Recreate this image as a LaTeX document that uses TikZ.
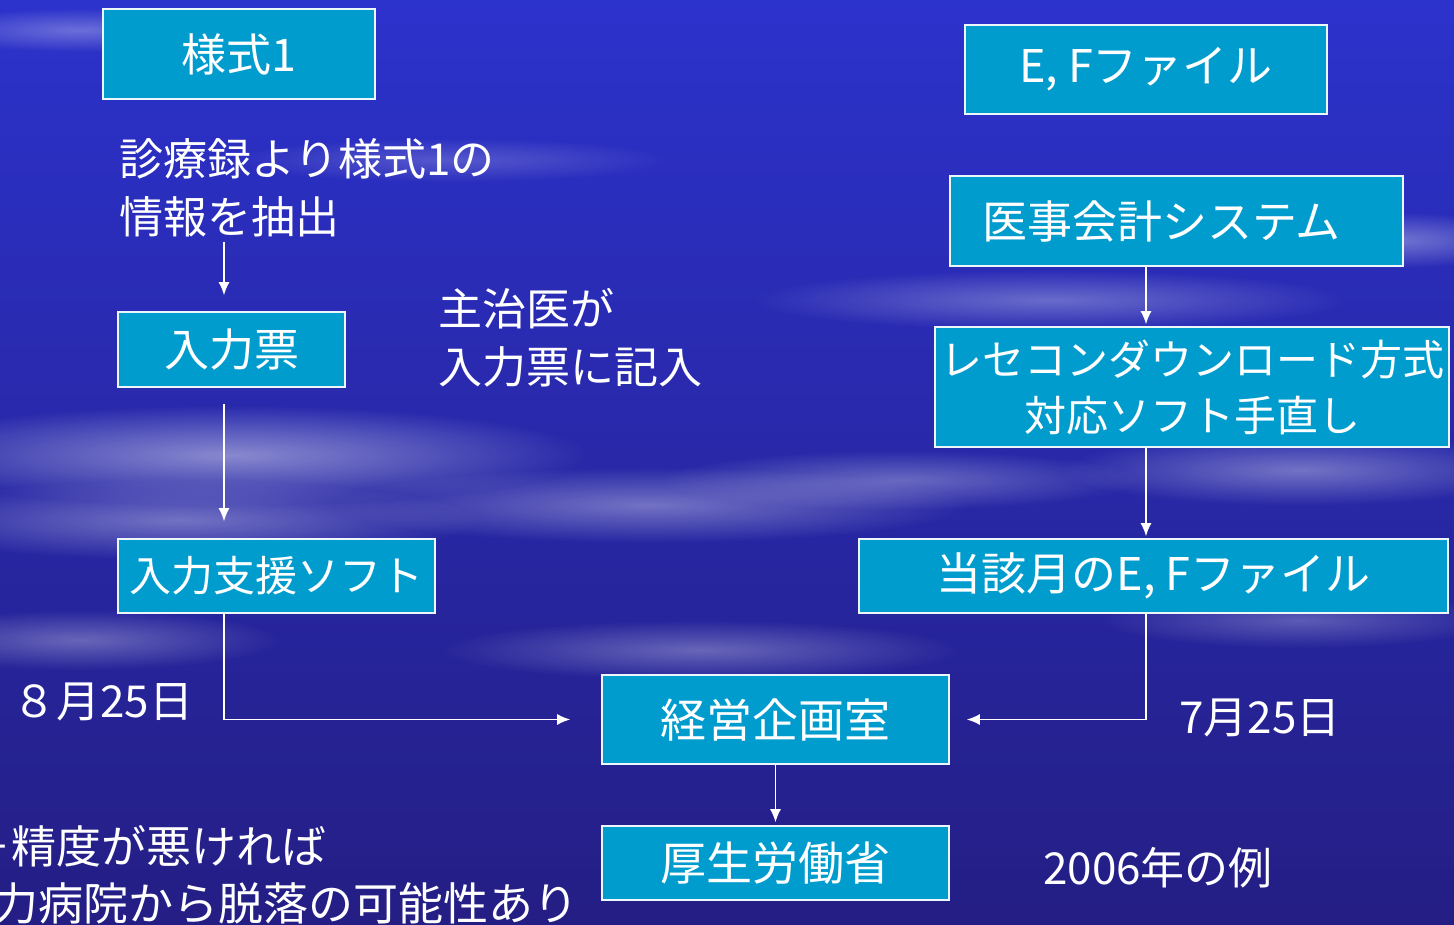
\documentclass[tikz,border=0pt]{standalone}
\usepackage{fontspec}
\setmainfont{Noto Sans CJK JP}
\usetikzlibrary{arrows.meta,calc,fadings}
\tikzfading[name=softcloud, inner color=transparent!0, outer color=transparent!100]
\definecolor{boxblue}{RGB}{0,156,206}
\definecolor{bgtop}{RGB}{44,50,204}
\definecolor{bgmid}{RGB}{50,54,178}
\definecolor{bgbot}{RGB}{36,30,132}
\tikzset{
  box/.style={draw=white!92!boxblue, line width=1.6pt, fill=boxblue, text=white, inner sep=0pt, align=center, font=\fontsize{45}{56}\selectfont},
  lbl/.style={text=white, inner sep=0pt, align=left, font=\fontsize{44}{58}\selectfont},
  arr/.style={draw=white, line width=1.6pt, -{Latex[length=13pt,width=11pt]}},
  cloud/.style={fill=white, path fading=softcloud, fill opacity=#1},
  cloud/.default=0.35
}
\begin{document}
\begin{tikzpicture}[x=1pt,y=-1pt]
\useasboundingbox (0,0) rectangle (1454,925);
\clip (0,0) rectangle (1454,925);
% background
\shade[top color=bgtop, middle color=bgmid, bottom color=bgbot] (0,0) rectangle (1454,925);
% clouds
\fill[cloud=0.3] (80,30) ellipse (160 and 22);
\fill[cloud=0.45] (230,455) ellipse (360 and 50);
\fill[cloud=0.35] (180,520) ellipse (300 and 40);
\fill[cloud=0.35] (650,505) ellipse (320 and 38);
\fill[cloud=0.3] (1050,300) ellipse (300 and 30);
\fill[cloud=0.35] (1390,240) ellipse (150 and 28);
\fill[cloud=0.35] (1300,470) ellipse (240 and 36);
\fill[cloud=0.3] (900,480) ellipse (240 and 30);
\fill[cloud=0.3] (700,650) ellipse (260 and 30);
\fill[cloud=0.3] (80,640) ellipse (200 and 30);
\fill[cloud=0.2] (450,160) ellipse (220 and 22);
\fill[cloud=0.25] (1300,620) ellipse (200 and 28);
% nodes
\node[box, minimum width=272pt, minimum height=90pt] (s1) at (239,54) {様式1};
\node[box, minimum width=362pt, minimum height=89pt] (ef) at (1146,69.5) {E, Fファイル};
\node[box, minimum width=453pt, minimum height=90pt, text width=453pt, inner xsep=0pt] (iji) at (1176.5,221) {\hspace*{-30pt}医事会計システム};
\node[box, minimum width=514pt, minimum height=120pt, font=\fontsize{42}{56}\selectfont] (rese) at (1192,387) {レセコンダウンロード方式\\対応ソフト手直し};
\node[box, minimum width=589pt, minimum height=74pt] (toga) at (1153.5,576) {当該月のE, Fファイル};
\node[box, minimum width=227pt, minimum height=75pt] (nyu) at (231.5,349.5) {入力票};
\node[box, minimum width=317pt, minimum height=74pt, font=\fontsize{42}{56}\selectfont] (soft) at (276.5,576) {入力支援ソフト};
\node[box, minimum width=347pt, minimum height=89pt, font=\fontsize{46}{56}\selectfont] (kei) at (775.5,719.5) {経営企画室};
\node[box, minimum width=347pt, minimum height=74pt, font=\fontsize{46}{56}\selectfont] (kou) at (775.5,863) {厚生労働省};
% free texts
\node[lbl, anchor=west] (t1) at (119,188) {診療録より様式1の\\情報を抽出};
\node[lbl, anchor=west] (t2) at (438,338) {主治医が\\入力票に記入};
\node[lbl, anchor=west] (d8) at (12,702) {８月25日};
\node[lbl, anchor=west] (d7) at (1179,718) {7月25日};
\node[lbl, anchor=west] (yr) at (1043,868) {2006年の例};
\node[lbl, anchor=west, font=\fontsize{45}{58}\selectfont] (n1) at (-34,846) {－精度が悪ければ};
\node[lbl, anchor=east, font=\fontsize{45}{58}\selectfont] (n2) at (579,903) {力病院から脱落の可能性あり};
% helper x coordinates
\coordinate (lx) at (224,0);
\coordinate (rx) at (1146,0);
% connectors
\draw[arr] ([yshift=-4pt]t1.south -| lx) -- ([yshift=16pt]nyu.north -| lx);
\draw[arr, shorten <=16pt, shorten >=17pt] (nyu.south -| lx) -- (soft.north -| lx);
\draw[arr, shorten >=31pt] (soft.south -| lx) |- (kei.west);
\draw[arr, shorten >=2pt] (iji.south -| rx) -- (rese.north -| rx);
\draw[arr, shorten >=2pt] (rese.south -| rx) -- (toga.north -| rx);
\draw[arr, shorten >=17pt] (toga.south -| rx) |- (kei.east);
\draw[arr, shorten >=3pt] (kei.south) -- (kou.north);
\end{tikzpicture}
\end{document}
